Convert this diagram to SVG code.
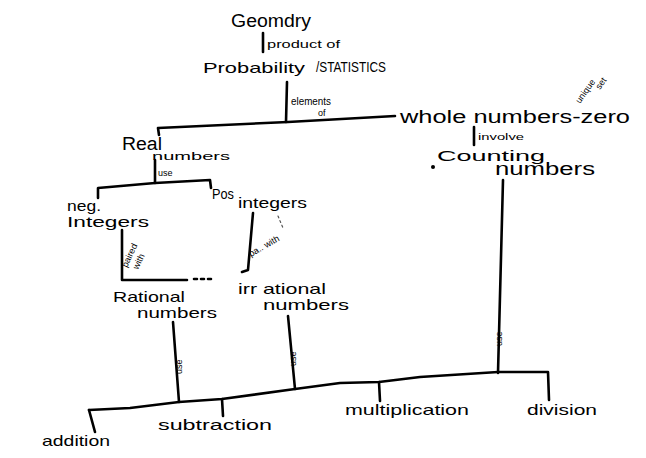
<svg xmlns="http://www.w3.org/2000/svg" width="646" height="458" viewBox="0 0 646 458">
<style>
.n{font-family:"Liberation Sans",Arial,sans-serif;fill:#000;}
.big{font-size:18px;}
.mid{font-size:15px;}
.sm{font-size:11px;}
.xs{font-size:9px;}
.c{fill:none;stroke:#000;stroke-width:2.6;stroke-linecap:round;stroke-linejoin:round;}
.d{fill:none;stroke:#000;stroke-width:2.6;stroke-linecap:round;stroke-dasharray:3 4;}
.f{fill:none;stroke:#555;stroke-width:1.2;stroke-linecap:round;stroke-dasharray:2 3;}
</style>
<rect width="646" height="458" fill="#fff"/>
<g id="connectors">
<path class="c" d="M263,33 L263,52"/>
<path class="c" d="M287,82 L286,122"/>
<path class="c" d="M159,135 L158,128 L288,122 L395,116"/>
<path class="c" d="M474,127 L474,145"/>
<path class="c" d="M155,160 L155,183"/>
<path class="c" d="M98,198 L98,188 L155,183 L210,180 L211,188"/>
<path class="c" d="M122,230 L122,280 L187,280"/>
<path class="d" d="M194,279 L214,279"/>
<path class="c" d="M253,213 L248,270 L242,272"/>
<path class="f" d="M278,216 L283,228"/>
<path class="c" d="M503,180 L498,373"/>
<path class="c" d="M173,322 L179,402"/>
<path class="c" d="M288,316 L295,389"/>
<path class="c" d="M89,410 L130,408 L179,402 L222,399 L295,389 L340,383 L379,382 L420,377 L498,372 L548,372 L549,400"/>
<path class="c" d="M89,410 L95,432"/>
<path class="c" d="M222,399 L223,416"/>
<path class="c" d="M379,382 L380,401"/>
<circle cx="433" cy="167" r="2" fill="#000"/>
<text class="n xs" transform="translate(182,374) rotate(-90)">use</text>
<text class="n xs" transform="translate(296,366) rotate(-90)">use</text>
<text class="n xs" transform="translate(502,346) rotate(-90)">use</text>
</g>
<g id="geometry"><text class="n big" x="231" y="27" textLength="80" lengthAdjust="spacingAndGlyphs">Geomdry</text></g>
<g id="product-of"><text class="n sm" x="267" y="48" textLength="73" lengthAdjust="spacingAndGlyphs">product of</text></g>
<g id="probability"><text class="n mid" x="203" y="73" textLength="102" lengthAdjust="spacingAndGlyphs">Probability</text><text class="n mid" x="316" y="72" textLength="70" lengthAdjust="spacingAndGlyphs">/STATISTICS</text></g>
<g id="elements-of"><text class="n sm" x="291" y="105" textLength="40" lengthAdjust="spacingAndGlyphs">elements</text><text class="n xs" x="318" y="116">of</text></g>
<g id="whole-numbers"><text class="n big" x="400" y="123" textLength="230" lengthAdjust="spacingAndGlyphs">whole numbers-zero</text></g>
<g id="unique-set"><text class="n xs" transform="translate(580,104) rotate(-55)">unique</text><text class="n xs" transform="translate(600,90) rotate(-55)">set</text></g>
<g id="involve"><text class="n xs" x="478" y="140" textLength="46" lengthAdjust="spacingAndGlyphs">involve</text></g>
<g id="counting-numbers"><text class="n mid" x="437" y="161" textLength="108" lengthAdjust="spacingAndGlyphs">Counting</text><text class="n big" x="495" y="175" textLength="100" lengthAdjust="spacingAndGlyphs">numbers</text></g>
<g id="real-numbers"><text class="n big" x="122" y="150" textLength="40" lengthAdjust="spacingAndGlyphs">Real</text><text class="n sm" x="152" y="160" textLength="78" lengthAdjust="spacingAndGlyphs">numbers</text></g>
<g id="use-real"><text class="n xs" x="158" y="176">use</text></g>
<g id="neg-integers"><text class="n mid" x="67" y="211" textLength="34" lengthAdjust="spacingAndGlyphs">neg.</text><text class="n mid" x="67" y="227" textLength="82" lengthAdjust="spacingAndGlyphs">Integers</text></g>
<g id="pos-integers"><text class="n mid" x="212" y="199" textLength="22" lengthAdjust="spacingAndGlyphs">Pos</text><text class="n mid" x="238" y="208" textLength="69" lengthAdjust="spacingAndGlyphs">integers</text></g>
<g id="paired-with-1"><text class="n xs" transform="translate(127,268) rotate(-65)">paired</text><text class="n xs" transform="translate(138,270) rotate(-65)">with</text></g>
<g id="paired-with-2"><text class="n xs" transform="translate(251,257) rotate(-30)">pa.. with</text></g>
<g id="rational-numbers"><text class="n mid" x="113" y="302" textLength="72" lengthAdjust="spacingAndGlyphs">Rational</text><text class="n mid" x="137" y="318" textLength="80" lengthAdjust="spacingAndGlyphs">numbers</text></g>
<g id="irrational-numbers"><text class="n mid" x="238" y="294" textLength="88" lengthAdjust="spacingAndGlyphs">irr ational</text><text class="n mid" x="263" y="310" textLength="86" lengthAdjust="spacingAndGlyphs">numbers</text></g>
<g id="addition"><text class="n mid" x="42" y="446" textLength="68" lengthAdjust="spacingAndGlyphs">addition</text></g>
<g id="subtraction"><text class="n mid" x="158" y="430" textLength="114" lengthAdjust="spacingAndGlyphs">subtraction</text></g>
<g id="multiplication"><text class="n mid" x="345" y="415" textLength="124" lengthAdjust="spacingAndGlyphs">multiplication</text></g>
<g id="division"><text class="n mid" x="527" y="415" textLength="70" lengthAdjust="spacingAndGlyphs">division</text></g>
</svg>
